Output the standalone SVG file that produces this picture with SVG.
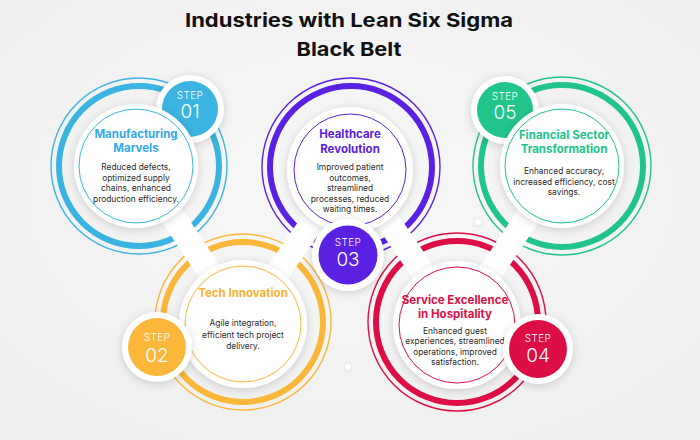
<svg xmlns="http://www.w3.org/2000/svg" width="700" height="440" viewBox="0 0 700 440">
<defs>
<filter id="sh" x="-30%" y="-30%" width="160%" height="160%">
<feDropShadow dx="0" dy="2" stdDeviation="4" flood-color="#000" flood-opacity="0.16"/>
</filter>
<radialGradient id="bg" cx="50%" cy="45%" r="70%">
<stop offset="0" stop-color="#f8f8f8"/>
<stop offset="1" stop-color="#eeeeee"/>
</radialGradient>
</defs>
<style>
.thin{fill:none;stroke-width:1.4}
.thick{fill:none;stroke-width:6}
.disc{fill:#fff;filter:url(#sh)}
.inner{fill:#fff;stroke-width:1}
.badgebg{fill:#fff;filter:url(#sh)}
.ttl{font-family:Inter,"Liberation Sans",sans-serif;font-weight:700;font-size:11.5px;text-anchor:middle}
.body{font-family:Inter,"Liberation Sans",sans-serif;font-weight:400;font-size:8.4px;fill:#2b2b2b;text-anchor:middle}
.step{font-family:Inter,"Liberation Sans",sans-serif;font-weight:300;font-size:10px;fill:#fff;text-anchor:middle;letter-spacing:0.4px}
.num{font-family:Inter,"Liberation Sans",sans-serif;font-weight:300;font-size:19px;fill:#fff;text-anchor:middle}
.head{font-family:Inter,"Liberation Sans",sans-serif;font-weight:700;font-size:19px;fill:#111;text-anchor:middle}
.conn{stroke:#fff;stroke-width:24;fill:none}
.dot{fill:#fff;filter:url(#sh)}
</style>
<rect width="700" height="440" fill="url(#bg)"/>
<text class="head" x="349" y="27" textLength="328" lengthAdjust="spacingAndGlyphs">Industries with Lean Six Sigma</text>
<text class="head" x="349" y="56" textLength="105" lengthAdjust="spacingAndGlyphs">Black Belt</text>

<g id="rings">
<circle class="thin" cx="139" cy="166" r="88" stroke="#3cb4e1"/>
<circle class="thick" cx="139" cy="166" r="80" stroke="#3cb4e1"/>
<circle class="thin" cx="351" cy="167" r="89" stroke="#5b21e3"/>
<circle class="thick" cx="351" cy="167" r="81" stroke="#5b21e3"/>
<circle class="thin" cx="562" cy="166" r="89" stroke="#21c48b"/>
<circle class="thick" cx="562" cy="166" r="81" stroke="#21c48b"/>
<circle class="thin" cx="243" cy="322" r="88" stroke="#fbb73a"/>
<circle class="thick" cx="243" cy="322" r="80" stroke="#fbb73a"/>
<circle class="thin" cx="457" cy="322" r="89" stroke="#dc0e45"/>
<circle class="thick" cx="457" cy="322" r="81" stroke="#dc0e45"/>
</g>

<g id="connectors">
<line class="conn" x1="139" y1="166" x2="243" y2="322"/>
<line class="conn" x1="243" y1="322" x2="351" y2="167"/>
<line class="conn" x1="351" y1="167" x2="457" y2="322"/>
<line class="conn" x1="457" y1="322" x2="562" y2="166"/>
</g>

<circle class="dot" cx="478" cy="222" r="3"/>
<circle class="dot" cx="348" cy="367" r="3"/>

<g id="step1">
<circle class="badgebg" cx="190" cy="109" r="34"/>
<circle cx="190" cy="109" r="28" fill="#3cb4e1"/>
<text class="step" x="190" y="99">STEP</text>
<text class="num" x="190" y="118">01</text>
<circle class="disc" cx="136" cy="166" r="62"/>
<circle class="inner" cx="136" cy="166" r="57" stroke="#3cb4e1"/>
<text class="ttl" x="136" y="138" fill="#34a9ea">Manufacturing</text>
<text class="ttl" x="136" y="152" fill="#34a9ea">Marvels</text>
<text class="body" x="136" y="170">Reduced defects,</text>
<text class="body" x="136" y="180.5">optimized supply</text>
<text class="body" x="136" y="191">chains, enhanced</text>
<text class="body" x="136" y="201.5">production efficiency.</text>
</g>

<g id="step3">
<circle class="disc" cx="350" cy="170" r="63"/>
<circle class="inner" cx="350" cy="170" r="56" stroke="#5b21e3"/>
<text class="ttl" x="350" y="138" fill="#5b21e3">Healthcare</text>
<text class="ttl" x="350" y="153" fill="#5b21e3">Revolution</text>
<text class="body" x="350" y="170">Improved patient</text>
<text class="body" x="350" y="180.5">outcomes,</text>
<text class="body" x="350" y="191">streamlined</text>
<text class="body" x="350" y="201.5">processes, reduced</text>
<text class="body" x="350" y="212">waiting times.</text>
<circle class="badgebg" cx="348" cy="255" r="36"/>
<circle cx="348" cy="255" r="29.5" fill="#5b21e3"/>
<text class="step" x="348" y="246">STEP</text>
<text class="num" x="348" y="266">03</text>
</g>

<g id="step5">
<circle class="badgebg" cx="505" cy="110" r="34"/>
<circle cx="505" cy="110" r="28" fill="#21c48b"/>
<text class="step" x="505" y="100">STEP</text>
<text class="num" x="505" y="119">05</text>
<circle class="disc" cx="562" cy="166" r="62"/>
<circle class="inner" cx="562" cy="166" r="57" stroke="#21c48b"/>
<text class="ttl" x="564" y="139" fill="#21c48b">Financial Sector</text>
<text class="ttl" x="564" y="153" fill="#21c48b">Transformation</text>
<text class="body" x="564" y="174">Enhanced accuracy,</text>
<text class="body" x="564" y="184.5">increased efficiency, cost</text>
<text class="body" x="564" y="195">savings.</text>
</g>

<g id="step2">
<circle class="disc" cx="243" cy="324" r="64"/>
<circle class="inner" cx="243" cy="324" r="58" stroke="#fbb73a"/>
<text class="ttl" x="243" y="297" fill="#f9b132">Tech Innovation</text>
<text class="body" x="243" y="326">Agile integration,</text>
<text class="body" x="243" y="337.5">efficient tech project</text>
<text class="body" x="243" y="349">delivery.</text>
<circle class="badgebg" cx="157" cy="347" r="35"/>
<circle cx="157" cy="347" r="29" fill="#fbb73a"/>
<text class="step" x="157" y="341">STEP</text>
<text class="num" x="157" y="362">02</text>
</g>

<g id="step4">
<circle class="disc" cx="457" cy="325" r="64"/>
<circle class="inner" cx="457" cy="325" r="58" stroke="#dc0e45"/>
<text class="ttl" x="455" y="304" fill="#dc0e45">Service Excellence</text>
<text class="ttl" x="455" y="318" fill="#dc0e45">in Hospitality</text>
<text class="body" x="455" y="333.5">Enhanced guest</text>
<text class="body" x="455" y="344">experiences, streamlined</text>
<text class="body" x="455" y="354.5">operations, improved</text>
<text class="body" x="455" y="365">satisfaction.</text>
<circle class="badgebg" cx="538" cy="349" r="35"/>
<circle cx="538" cy="349" r="29" fill="#dc0e45"/>
<text class="step" x="538" y="342">STEP</text>
<text class="num" x="538" y="362">04</text>
</g>
</svg>
